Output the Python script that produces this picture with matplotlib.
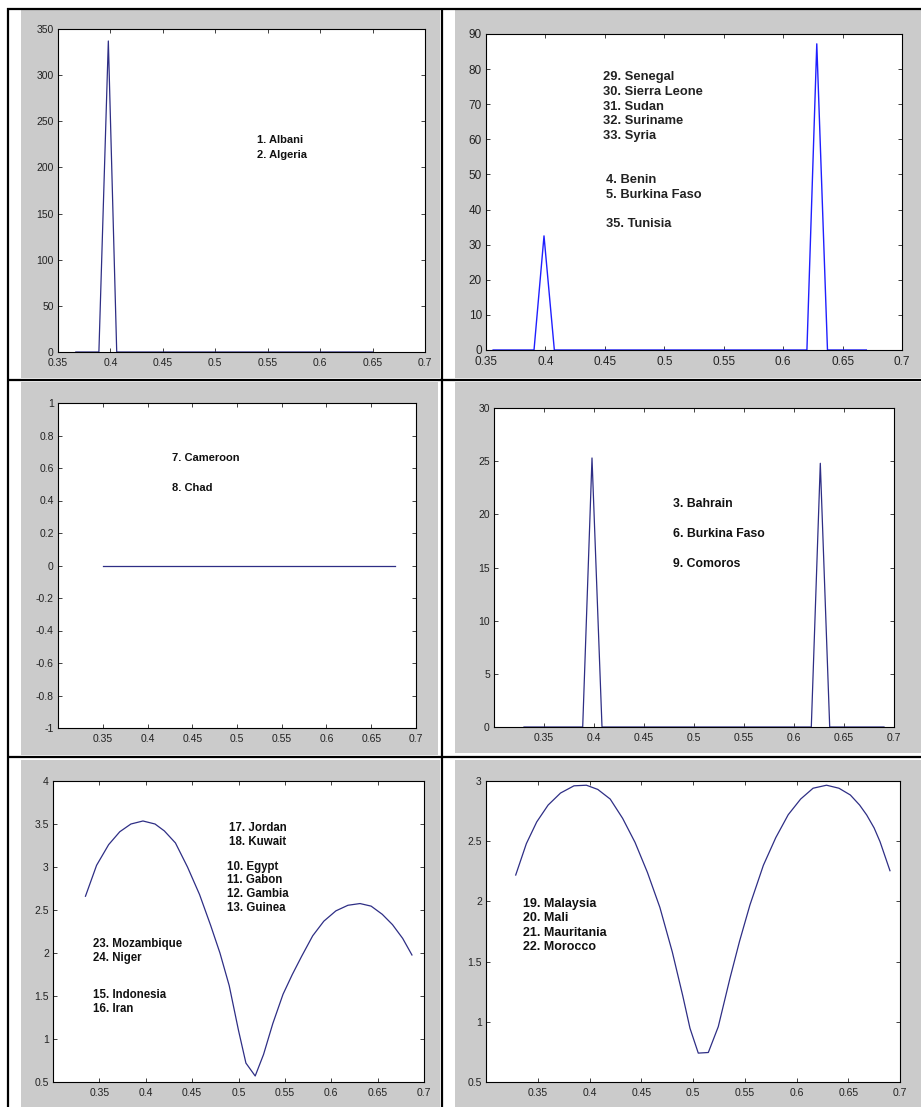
import numpy as np
import matplotlib.pyplot as plt
from matplotlib.patches import Rectangle

plt.rcParams['font.family'] = ['Liberation Sans', 'DejaVu Sans']

# ---- data ----
# panel 1: one spike
x1 = [0.367, 0.389, 0.398, 0.406, 0.650]
y1 = [0, 0, 337, 0, 0]
labels1 = ['1. Albani', '2. Algeria']

# panel 2: two spikes
x2 = [0.356, 0.3904, 0.3988, 0.4075, 0.620, 0.6283, 0.6373, 0.670]
y2 = [0, 0, 32.5, 0, 0, 87.2, 0, 0]
labels2 = ['29. Senegal', '30. Sierra Leone', '31. Sudan', '32. Suriname',
           '33. Syria', '4. Benin', '5. Burkina Faso', '35. Tunisia']

# panel 3: flat
x3 = [0.35, 0.677]
y3 = [0, 0]
labels3 = ['7. Cameroon', '8. Chad']

# panel 4: two spikes
x4 = [0.33, 0.3887, 0.398, 0.408, 0.6173, 0.6263, 0.6357, 0.69]
y4 = [0, 0, 25.3, 0, 0, 24.8, 0, 0]
labels4 = ['3. Bahrain', '6. Burkina Faso', '9. Comoros']

# panel 5: smooth curve
x5 = [0.335, 0.347, 0.360, 0.372, 0.384, 0.397, 0.410, 0.420, 0.432, 0.445,
      0.458, 0.470, 0.480, 0.490, 0.500, 0.508, 0.518, 0.527, 0.537, 0.548,
      0.558, 0.568, 0.580, 0.592, 0.605, 0.618, 0.631, 0.643, 0.655, 0.666,
      0.677, 0.687]
y5 = [2.66, 3.02, 3.26, 3.41, 3.50, 3.535, 3.50, 3.42, 3.28, 3.00,
      2.68, 2.32, 2.00, 1.62, 1.10, 0.72, 0.57, 0.82, 1.18, 1.52,
      1.75, 1.96, 2.20, 2.37, 2.49, 2.555, 2.575, 2.545, 2.45, 2.33,
      2.17, 1.977]
labels5 = ['17. Jordan', '18. Kuwait', '10. Egypt', '11. Gabon', '12. Gambia',
           '13. Guinea', '23. Mozambique', '24. Niger', '15. Indonesia', '16. Iran']

# panel 6: smooth curve
x6 = [0.3287, 0.339, 0.349, 0.360, 0.372, 0.385, 0.397, 0.408, 0.420, 0.432,
      0.444, 0.456, 0.468, 0.480, 0.490, 0.4971, 0.5051, 0.5148, 0.5244, 0.5357,
      0.545, 0.555, 0.568, 0.580, 0.592, 0.604, 0.616, 0.629, 0.641, 0.652,
      0.661, 0.6678, 0.675, 0.6807, 0.6903]
y6 = [2.219, 2.48, 2.66, 2.80, 2.90, 2.96, 2.965, 2.93, 2.85, 2.69,
      2.49, 2.24, 1.95, 1.58, 1.22, 0.946, 0.74, 0.745, 0.959, 1.361,
      1.67, 1.97, 2.30, 2.53, 2.72, 2.85, 2.94, 2.965, 2.94, 2.884,
      2.80, 2.718, 2.61, 2.496, 2.255]
labels6 = ['19. Malaysia', '20. Mali', '21. Mauritania', '22. Morocco']

W, H = 921, 1107
fig = plt.figure(figsize=(W / 100, H / 100), dpi=100)
fig.patch.set_facecolor('white')

# background frame: grey cells and black grid lines (pixel coordinates)
bg = fig.add_axes([0, 0, 1, 1])
bg.set_xlim(0, W)
bg.set_ylim(H, 0)
bg.axis('off')
grey = '#cbcbcb'
for (a, b, c, d) in [(21, 10, 440, 378), (455, 10, 921, 378),
                     (21, 382, 438, 755), (455, 382, 921, 753),
                     (21, 760, 440, 1107), (455, 760, 921, 1107)]:
    bg.add_patch(Rectangle((a, b), c - a, d - b, color=grey, lw=0))
lk = dict(color='black', lw=1.6, solid_capstyle='butt')
bg.plot([7.5, 7.5], [8, H], **lk)
bg.plot([442, 442], [8, H], **lk)
for yy in [8.5, 380, 757]:
    bg.plot([7, W], [yy, yy], **lk)


def make_ax(l, t, r, b):
    return fig.add_axes([l / W, 1 - b / H, (r - l) / W, (b - t) / H])


def fmt(v):
    v = round(float(v), 2) + 0.0
    return '%g' % v


def style(ax, xlim, ylim, yticks, tsize=7.5):
    xt = [0.35, 0.4, 0.45, 0.5, 0.55, 0.6, 0.65, 0.7]
    ax.set_xlim(*xlim)
    ax.set_ylim(*ylim)
    ax.set_xticks(xt)
    ax.set_xticklabels([fmt(v) for v in xt])
    ax.set_yticks(yticks)
    ax.set_yticklabels([fmt(v) for v in yticks])
    ax.tick_params(direction='in', length=3, width=0.6, top=True, right=True,
                   labelsize=tsize, colors='#222222')
    ax.tick_params(axis='x', pad=4)
    ax.tick_params(axis='y', pad=3)
    for s in ax.spines.values():
        s.set_color('black')
        s.set_linewidth(0.8)
    ax.set_facecolor('white')


navy = '#2e2e85'

# panel 1
ax = make_ax(58, 29, 425, 352)
ax.plot(x1, y1, color=navy, lw=0.9)
style(ax, (0.35, 0.7), (0, 350), np.arange(0, 351, 50))
for s, yy in zip(labels1, [229.7, 213.5]):
    ax.text(0.5398, yy, s, fontsize=8, fontweight='bold', va='center', color='#111111')

# panel 2
ax = make_ax(486, 34, 902, 350)
ax.plot(x2, y2, color='#1f1fff', lw=1.0)
style(ax, (0.35, 0.7), (0, 90), np.arange(0, 91, 10), tsize=8.5)
pos2 = [(0.4482, 77.8), (0.4482, 73.6), (0.4482, 69.3), (0.4482, 65.2),
        (0.4482, 60.9), (0.4507, 48.3), (0.4507, 44.1), (0.4507, 35.8)]
for s, (xx, yy) in zip(labels2, pos2):
    ax.text(xx, yy, s, fontsize=9.3, fontweight='bold', va='center', color='#222222')

# panel 3
ax = make_ax(58, 403, 416, 728)
ax.plot(x3, y3, color=navy, lw=0.9)
style(ax, (0.3, 0.7), (-1, 1), np.arange(-1, 1.01, 0.2))
for s, yy in zip(labels3, [0.66, 0.475]):
    ax.text(0.427, yy, s, fontsize=8, fontweight='bold', va='center', color='#111111')

# panel 4
ax = make_ax(494, 408, 894, 727)
ax.plot(x4, y4, color=navy, lw=0.9)
style(ax, (0.3, 0.7), (0, 30), np.arange(0, 31, 5))
for s, yy in zip(labels4, [21.0, 18.18, 15.36]):
    ax.text(0.4787, yy, s, fontsize=8.8, fontweight='bold', va='center', color='#111111')

# panel 5
ax = make_ax(53, 781, 424, 1082)
ax.plot(x5, y5, color=navy, lw=0.9)
style(ax, (0.3, 0.7), (0.5, 4), np.arange(0.5, 4.01, 0.5))
pos5 = [(0.4894, 3.45), (0.4894, 3.287), (0.4873, 3.003), (0.4873, 2.845),
        (0.4873, 2.683), (0.4873, 2.523), (0.3435, 2.105), (0.3435, 1.938),
        (0.3435, 1.512), (0.3435, 1.352)]
for s, (xx, yy) in zip(labels5, pos5):
    ax.text(xx, yy, s, fontsize=8.3, fontweight='bold', va='center', color='#111111')

# panel 6
ax = make_ax(486, 781, 900, 1082)
ax.plot(x6, y6, color=navy, lw=0.9)
style(ax, (0.3, 0.7), (0.5, 3), np.arange(0.5, 3.01, 0.5))
for s, yy in zip(labels6, [1.976, 1.86, 1.74, 1.624]):
    ax.text(0.3355, yy, s, fontsize=9, fontweight='bold', va='center', color='#111111')

fig.savefig('out.png', dpi=100)
